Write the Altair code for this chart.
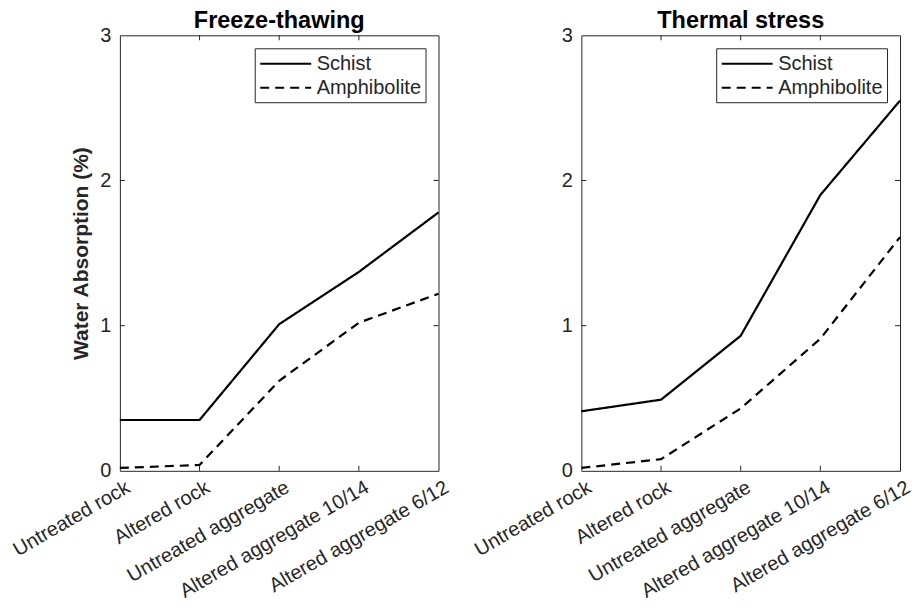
import altair as alt
import pandas as pd

categories = ["Untreated rock", "Altered rock", "Untreated aggregate",
              "Altered aggregate 10/14", "Altered aggregate 6/12"]
series_names = ["Schist", "Amphibolite"]

ft_schist = [0.35, 0.35, 1.01, 1.37, 1.78]
ft_amph = [0.02, 0.04, 0.62, 1.02, 1.22]
ts_schist = [0.41, 0.49, 0.93, 1.90, 2.55]
ts_amph = [0.02, 0.08, 0.43, 0.91, 1.61]

y_ticks = [1, 2]

W, H = 319, 436
FONT = "Liberation Sans"
TXT = "#262626"


def make_df(schist, amph):
    rows = []
    for c, v in zip(categories, schist):
        rows.append({"cat": c, "series": "Schist", "value": v})
    for c, v in zip(categories, amph):
        rows.append({"cat": c, "series": "Amphibolite", "value": v})
    return pd.DataFrame(rows)


def panel(schist, amph, title, show_ytitle):
    df = make_df(schist, amph)
    xscale = alt.Scale(type="point", padding=0, domain=categories)
    yscale = alt.Scale(domain=[0, 3], nice=False)
    xaxis = alt.Axis(title=None, labelAngle=330, labelAlign="right",
                     labelBaseline="top", labelOffset=3,
                     labelPadding=6, ticks=False, domain=False, grid=False,
                     labelFontSize=20, labelFont=FONT, labelColor=TXT,
                     labelLimit=400)
    yaxis = alt.Axis(title="Water Absorption (%)" if show_ytitle else None,
                     values=[0, 1, 2, 3], format="d", ticks=False,
                     domain=False, grid=False,
                     labelPadding=9, titlePadding=8,
                     labelFontSize=20, labelFont=FONT, labelColor=TXT,
                     titleFont=FONT, titleFontSize=21, titleFontWeight="bold",
                     titleColor=TXT)
    lines = alt.Chart(df).mark_line(strokeWidth=2.2, color="black").encode(
        x=alt.X("cat:N", scale=xscale, axis=xaxis, sort=categories),
        y=alt.Y("value:Q", scale=yscale, axis=yaxis),
        strokeDash=alt.StrokeDash(
            "series:N",
            scale=alt.Scale(domain=series_names, range=[[1, 0], [9, 6]]),
            sort=series_names,
            legend=alt.Legend(title=None, orient="top-right", offset=13,
                              strokeColor=TXT, fillColor="white",
                              padding=4, labelFontSize=20, labelFont=FONT,
                              labelColor=TXT,
                              symbolType="M-1,0H4.1", symbolSize=400,
                              symbolStrokeWidth=2.2, symbolStrokeColor="black",
                              rowPadding=2, labelOffset=35),
        ),
        detail="series:N",
    )
    ydf = pd.DataFrame({"t": y_ticks})
    xdf = pd.DataFrame({"cat": categories[1:-1]})
    yt_left = alt.Chart(ydf).mark_rule(color=TXT).encode(
        y=alt.Y("t:Q", scale=yscale, axis=yaxis), x=alt.value(0), x2=alt.value(5))
    yt_right = alt.Chart(ydf).mark_rule(color=TXT).encode(
        y=alt.Y("t:Q", scale=yscale, axis=yaxis), x=alt.value(W - 5), x2=alt.value(W))
    xt_bot = alt.Chart(xdf).mark_rule(color=TXT).encode(
        x=alt.X("cat:N", scale=xscale, axis=xaxis), y=alt.value(H - 5), y2=alt.value(H))
    xt_top = alt.Chart(xdf).mark_rule(color=TXT).encode(
        x=alt.X("cat:N", scale=xscale, axis=xaxis), y=alt.value(0), y2=alt.value(5))
    return alt.layer(lines, yt_left, yt_right, xt_bot, xt_top).properties(
        width=W, height=H,
        title=alt.TitleParams(title, fontSize=23.5, fontWeight="bold", font=FONT,
                              color="black", offset=-7, frame="group"),
    )


left = panel(ft_schist, ft_amph, "Freeze-thawing", True)
right = panel(ts_schist, ts_amph, "Thermal stress", False)

chart = alt.hconcat(left, right, spacing=143, bounds="flush", padding=0).resolve_legend(
    strokeDash="independent"
).configure_view(stroke=TXT, strokeWidth=1).configure_axis(
    grid=False
)

chart.save("out.html", embed_options={"renderer": "svg", "actions": False})
